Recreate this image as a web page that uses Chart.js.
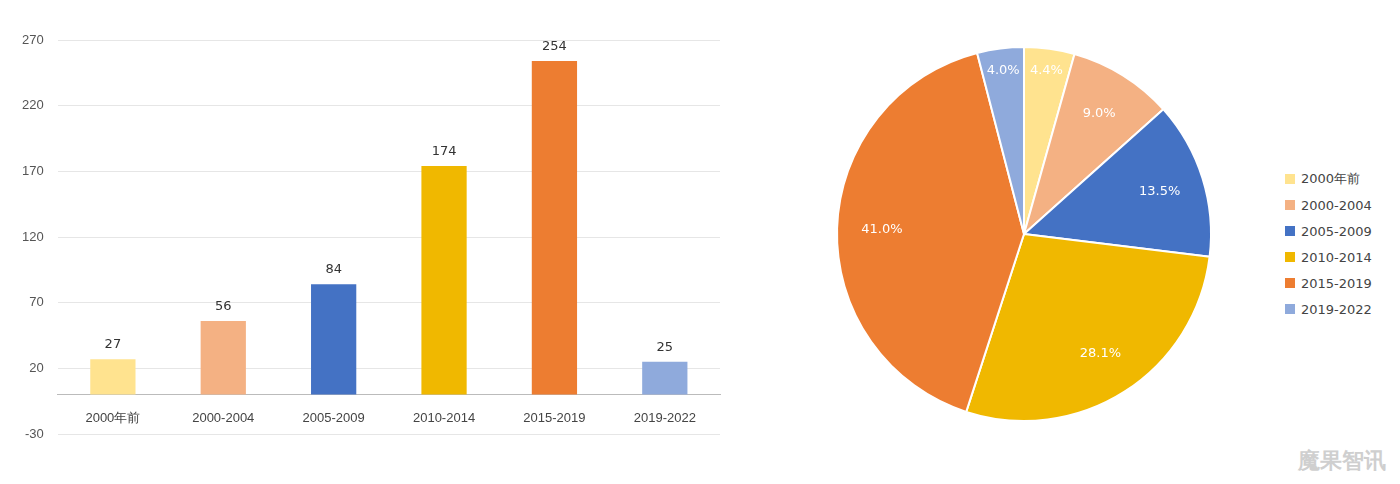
<!DOCTYPE html>
<html><head><meta charset="utf-8">
<script src="https://cdn.jsdelivr.net/npm/chart.js@4"></script>
<style>
body{margin:0;background:#fff;width:1400px;height:484px;position:relative;overflow:hidden;font-family:"DejaVu Sans",sans-serif}
#bar{position:absolute;left:0;top:0}
#pie{position:absolute;left:830px;top:40px}
#legend{position:absolute;left:1285px;top:166px;font-size:13px;color:#444}
#legend div{height:26px;display:flex;align-items:center}
#legend span{display:inline-block;width:10px;height:10px;margin-right:6px}
#wm{position:absolute;right:14px;bottom:8px;font-size:22px;color:#cfcfcf;font-weight:bold}
</style></head><body>
<canvas id="bar" width="730" height="484"></canvas>
<canvas id="pie" width="388" height="388"></canvas>
<div id="legend"></div>
<div id="wm">魔果智讯</div>
<script>
const categories=["2000年前","2000-2004","2005-2009","2010-2014","2015-2019","2019-2022"];
const values=[27,56,84,174,254,25];
const percents=["4.4%","9.0%","13.5%","28.1%","41.0%","4.0%"];
const colors=["#FFE38F","#F4B183","#4472C4","#F0B800","#ED7D31","#8FAADC"];
const yMin=-30,yMax=270,yStep=50;

const valueLabels={id:"vl",afterDatasetsDraw(c){const ctx=c.ctx;ctx.save();ctx.font="13px 'DejaVu Sans'";ctx.fillStyle="#333";ctx.textAlign="center";ctx.textBaseline="bottom";
c.getDatasetMeta(0).data.forEach((b,i)=>ctx.fillText(values[i],b.x,b.y-8));ctx.restore();}};
new Chart(document.getElementById("bar"),{type:"bar",
data:{labels:categories,datasets:[{data:values,backgroundColor:colors,barPercentage:0.41,categoryPercentage:1}]},
options:{responsive:false,animation:false,layout:{padding:{left:8,right:10,top:40,bottom:50}},
plugins:{legend:{display:false},tooltip:{enabled:false}},
scales:{y:{min:yMin,max:yMax,ticks:{stepSize:yStep,color:"#555",font:{size:13},padding:14},grid:{color:"#e6e6e6",drawTicks:false},border:{display:false}},
x:{position:{y:0},ticks:{color:"#444",font:{size:13},padding:8},grid:{display:false},border:{color:"#bbb"}}}},
plugins:[valueLabels]});

const pieLabels={id:"pl",afterDatasetsDraw(c){const ctx=c.ctx;ctx.save();ctx.font="13px 'DejaVu Sans'";ctx.fillStyle="#fff";ctx.textAlign="center";ctx.textBaseline="middle";
c.getDatasetMeta(0).data.forEach((a,i)=>{const m=(a.startAngle+a.endAngle)/2,r=a.outerRadius*(i==0||i==5?0.88:0.76);ctx.fillText(percents[i],a.x+Math.cos(m)*r,a.y+Math.sin(m)*r);});ctx.restore();}};
new Chart(document.getElementById("pie"),{type:"pie",
data:{labels:categories,datasets:[{data:values,backgroundColor:colors,borderColor:"#fff",borderWidth:2}]},
options:{responsive:false,animation:false,layout:{padding:6},plugins:{legend:{display:false},tooltip:{enabled:false}}},
plugins:[pieLabels]});

const lg=document.getElementById("legend");
categories.forEach((c,i)=>{const d=document.createElement("div");d.innerHTML='<span style="background:'+colors[i]+'"></span>'+c;lg.appendChild(d);});
</script></body></html>
